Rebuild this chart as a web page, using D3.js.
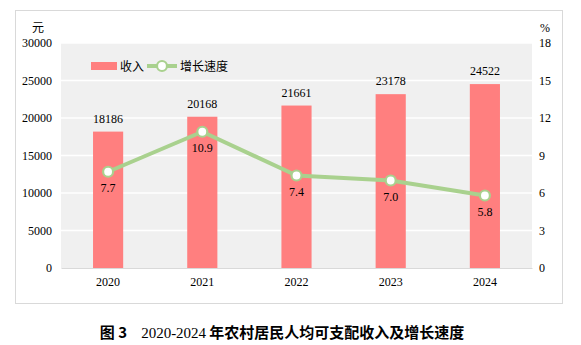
<!DOCTYPE html>
<html>
<head>
<meta charset="utf-8">
<script src="https://cdn.jsdelivr.net/npm/d3@7"></script>
<style>
  html, body { margin: 0; padding: 0; background: #fff; }
  svg { display: block; }
</style>
</head>
<body>
<svg id="chart" width="581" height="345"></svg>
<script>
// Rural residents' per-capita disposable income and growth rate
const years = ["2020", "2021", "2022", "2023", "2024"];
const income = [18186, 20168, 21661, 23178, 24522];
const growth = [7.7, 10.9, 7.4, 7.0, 5.8];
const leftTicks = [0, 5000, 10000, 15000, 20000, 25000, 30000];
const rightTicks = [0, 3, 6, 9, 12, 15, 18];

const svg = d3.select("#chart");
const serif = "'Liberation Serif', 'Times New Roman', serif";
const cjk = "'Noto Sans CJK SC', sans-serif";

const plot = { left: 61, right: 532, top: 43, bottom: 268 };

// outer frame
svg.append("rect")
  .attr("x", 15.5).attr("y", 10.5).attr("width", 547).attr("height", 293)
  .attr("fill", "#fff").attr("stroke", "#d9d9d9").attr("stroke-width", 1);

// plot background
svg.append("rect")
  .attr("x", plot.left).attr("y", plot.top)
  .attr("width", plot.right - plot.left).attr("height", plot.bottom - plot.top)
  .attr("fill", "#f0f0f0");

const x = d3.scaleBand().domain(years).range([plot.left, plot.right]).paddingInner(0.68).paddingOuter(0.34);
const yL = d3.scaleLinear().domain([0, 30000]).range([plot.bottom, plot.top]);
const yR = d3.scaleLinear().domain([0, 18]).range([plot.bottom, plot.top]);

// gridlines
svg.append("g").selectAll("line").data(leftTicks.slice(1)).join("line")
  .attr("x1", plot.left).attr("x2", plot.right)
  .attr("y1", d => yL(d)).attr("y2", d => yL(d))
  .attr("stroke", "#fff").attr("stroke-width", 1.5);

function styleAxis(g) {
  g.attr("font-family", serif).attr("font-size", 12);
  g.selectAll("text").attr("font-family", serif).attr("font-size", 12).attr("fill", "#000");
}

// left axis
const leftAxis = svg.append("g").attr("transform", `translate(${plot.left},0)`)
  .call(d3.axisLeft(yL).tickValues(leftTicks).tickFormat(d3.format("d")).tickSize(0).tickPadding(9));
leftAxis.select(".domain").remove();
styleAxis(leftAxis);

// right axis
const rightAxis = svg.append("g").attr("transform", `translate(${plot.right},0)`)
  .call(d3.axisRight(yR).tickValues(rightTicks).tickFormat(d3.format("d")).tickSize(0).tickPadding(7));
rightAxis.select(".domain").remove();
styleAxis(rightAxis);

// bottom axis
const bottomAxis = svg.append("g").attr("transform", `translate(0,${plot.bottom})`)
  .call(d3.axisBottom(x).tickSize(0).tickPadding(9));
bottomAxis.select(".domain").attr("stroke", "#d9d9d9").attr("stroke-width", 1.2);
styleAxis(bottomAxis);

// unit labels
svg.append("text").attr("x", 38).attr("y", 32).attr("text-anchor", "middle")
  .attr("font-family", cjk).attr("font-size", 12).text("元");
svg.append("text").attr("x", 545).attr("y", 32).attr("text-anchor", "middle")
  .attr("font-family", serif).attr("font-size", 12).text("%");

// bars
svg.append("g").selectAll("rect").data(years).join("rect")
  .attr("x", d => x(d)).attr("width", x.bandwidth())
  .attr("y", (d, i) => yL(income[i]))
  .attr("height", (d, i) => plot.bottom - yL(income[i]))
  .attr("fill", "#ff7f7f");

// bar value labels
svg.append("g").selectAll("text").data(years).join("text")
  .attr("x", d => x(d) + x.bandwidth() / 2)
  .attr("y", (d, i) => yL(income[i]) - 9)
  .attr("text-anchor", "middle")
  .attr("font-family", serif).attr("font-size", 12).attr("fill", "#000")
  .text((d, i) => income[i]);

// growth line
const line = d3.line()
  .x((d, i) => x(years[i]) + x.bandwidth() / 2)
  .y(d => yR(d));
svg.append("path").datum(growth)
  .attr("d", line).attr("fill", "none")
  .attr("stroke", "#a9d18e").attr("stroke-width", 4).attr("stroke-linejoin", "round");

svg.append("g").selectAll("circle").data(growth).join("circle")
  .attr("cx", (d, i) => x(years[i]) + x.bandwidth() / 2)
  .attr("cy", d => yR(d))
  .attr("r", 5)
  .attr("fill", "#fff").attr("stroke", "#a9d18e").attr("stroke-width", 2.2);

svg.append("g").selectAll("text").data(growth).join("text")
  .attr("x", (d, i) => x(years[i]) + x.bandwidth() / 2)
  .attr("y", d => yR(d) + 20)
  .attr("text-anchor", "middle")
  .attr("font-family", serif).attr("font-size", 12).attr("fill", "#000")
  .text(d => d.toFixed(1));

// legend
const lg = svg.append("g");
lg.append("rect").attr("x", 91).attr("y", 62).attr("width", 26).attr("height", 8).attr("fill", "#ff7f7f");
lg.append("text").attr("x", 120).attr("y", 70.5).attr("font-family", cjk).attr("font-size", 12).text("收入");
lg.append("line").attr("x1", 147).attr("x2", 177).attr("y1", 66).attr("y2", 66)
  .attr("stroke", "#a9d18e").attr("stroke-width", 4);
lg.append("circle").attr("cx", 162).attr("cy", 66).attr("r", 5)
  .attr("fill", "#fff").attr("stroke", "#a9d18e").attr("stroke-width", 2.2);
lg.append("text").attr("x", 180).attr("y", 70.5).attr("font-family", cjk).attr("font-size", 12).text("增长速度");

// caption
const cap = svg.append("text").attr("x", 282).attr("y", 338).attr("text-anchor", "middle")
  .attr("font-size", 15).attr("fill", "#000");
cap.append("tspan").attr("font-family", cjk).attr("font-weight", "bold").text("图 3");
cap.append("tspan").attr("font-family", serif).attr("dx", 14).text("2020-2024");
cap.append("tspan").attr("font-family", cjk).attr("font-weight", "bold").attr("dx", 3).text("年农村居民人均可支配收入及增长速度");
</script>
</body>
</html>
